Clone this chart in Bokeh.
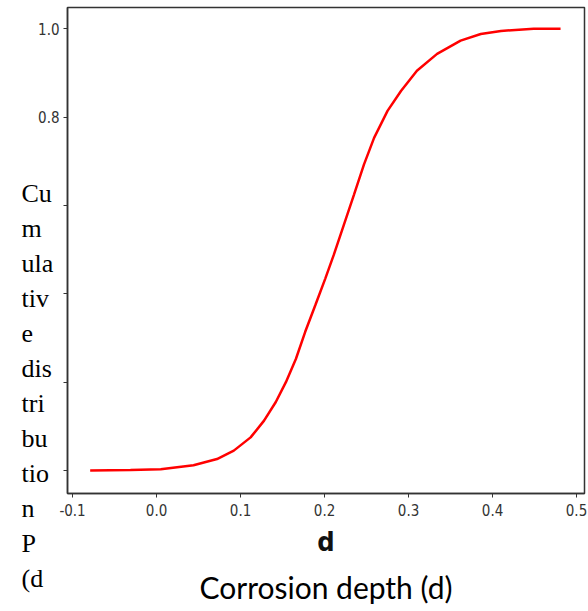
from bokeh.plotting import figure
from bokeh.models import Range1d, Label, Title, FixedTicker, PrintfTickFormatter
from bokeh.embed import file_html
from bokeh.resources import INLINE

# Data
depth = [-0.079, -0.031, 0.005, 0.044, 0.072, 0.092, 0.112, 0.128, 0.142, 0.154,
         0.166, 0.177, 0.189, 0.201, 0.211, 0.223, 0.235, 0.247, 0.259, 0.275,
         0.291, 0.310, 0.334, 0.362, 0.386, 0.410, 0.449, 0.481]
cdf = [0.000, 0.001, 0.003, 0.012, 0.026, 0.045, 0.075, 0.113, 0.155, 0.200,
       0.253, 0.314, 0.374, 0.435, 0.488, 0.556, 0.624, 0.693, 0.753, 0.814,
       0.859, 0.905, 0.943, 0.973, 0.988, 0.995, 1.000, 1.000]

x_ticks = [-0.1, 0.0, 0.1, 0.2, 0.3, 0.4, 0.5]
y_ticks = [0.0, 0.2, 0.4, 0.6, 0.8, 1.0]
y_hidden = {0.0: "", 0.2: "", 0.4: "", 0.6: ""}
ylabel_lines = ["Cu", "m", "ula", "tiv", "e", "dis", "tri", "bu", "tio", "n", "P", "(d"]

NARROW = "Liberation Sans Narrow, DejaVu Sans Condensed, sans-serif"

p = figure(width=588, height=611, output_backend="svg", toolbar_location=None,
           x_range=Range1d(-0.106, 0.5095), y_range=Range1d(-0.052, 1.048),
           min_border_left=67, min_border_right=4, min_border_top=7)

p.line(depth, cdf, line_color="#ff0000", line_width=2.5)

p.grid.visible = False
p.outline_line_color = "#333333"
p.outline_line_width = 1.5

for ax in (p.xaxis, p.yaxis):
    ax.axis_line_color = "#333333"
    ax.axis_line_width = 1.5
    ax.major_tick_out = 4
    ax.major_tick_in = 0
    ax.minor_tick_line_color = None
    ax.major_tick_line_color = "#333333"
    ax.major_label_text_font = NARROW
    ax.major_label_text_font_size = "15px"
    ax.major_label_text_color = "#333333"

p.xaxis.ticker = FixedTicker(ticks=x_ticks)
p.yaxis.ticker = FixedTicker(ticks=y_ticks)
p.xaxis.formatter = PrintfTickFormatter(format="%.1f")
p.yaxis.formatter = PrintfTickFormatter(format="%.1f")
p.yaxis.major_label_overrides = y_hidden
p.xaxis.major_label_standoff = 6
p.yaxis.major_label_standoff = 4

p.xaxis.axis_label = "d"
p.xaxis.axis_label_text_font = NARROW
p.xaxis.axis_label_text_font_style = "bold"
p.xaxis.axis_label_text_font_size = "27px"
p.xaxis.axis_label_text_color = "#111111"
p.xaxis.axis_label_standoff = 7

t = Title(text="Corrosion depth (d)", align="center", text_font="Lato",
          text_font_size="30px", text_font_style="normal", text_color="#000000",
          standoff=14)
p.add_layout(t, "below")

# wrapped y-axis caption, one multi-line text in the left border panel
p.add_layout(Label(x=18, y=315, x_units="screen", y_units="screen",
                   text="\n".join(ylabel_lines), text_font="Liberation Serif",
                   text_font_size="26px", text_line_height=1.208,
                   text_align="left", text_baseline="top",
                   text_color="#000000"), "left")

open("out.html", "w").write(file_html(p, INLINE))
